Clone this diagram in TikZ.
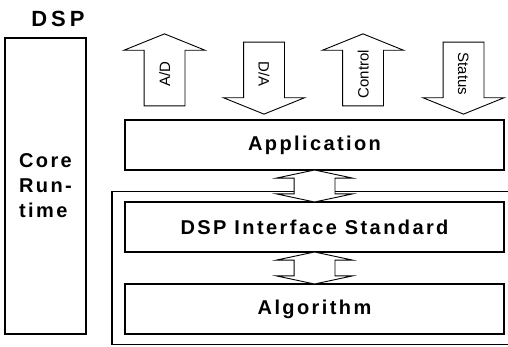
\documentclass[tikz,border=0pt]{standalone}
\usepackage{fontspec}
\setmainfont{Liberation Sans}
\newfontfamily\widefont{Liberation Sans}[LetterSpace=12]
\newfontfamily\titlefont{Liberation Sans}[LetterSpace=18]
\usetikzlibrary{positioning, shapes.arrows, fit, calc}

\begin{document}
\begin{tikzpicture}[
        x=1pt, y=-1pt,
        node distance=32pt,
        layer/.style={rectangle, draw, line width=1.3pt, outer sep=0pt, minimum width=379pt, minimum height=50pt, font=\fontsize{20}{24}\selectfont\widefont\bfseries},
        corebox/.style={rectangle, draw, line width=1.3pt, minimum width=81pt, minimum height=296pt, align=left, font=\fontsize{20}{25}\selectfont\widefont\bfseries},
        framebox/.style={rectangle, draw, line width=1.1pt, outer sep=0pt, inner xsep=13pt, inner ysep=10.5pt},
        sigarrow/.style={single arrow, draw, fill=white, line width=0.9pt, minimum height=72pt, minimum width=80pt, single arrow head extend=20pt, single arrow tip angle=136, inner xsep=0pt, inner ysep=14.5pt, text height=11pt, text depth=0pt, font=\fontsize{15}{15}\selectfont},
        linkarrow/.style={double arrow, draw, fill=white, line width=0.9pt, rotate=90, minimum height=32pt, minimum width=76pt, double arrow head extend=18pt, double arrow tip angle=156, inner xsep=0pt, inner ysep=20pt, text height=0pt, text depth=0pt}
    ]
        \useasboundingbox (0,0) rectangle (508,347);
        \clip (0,0) rectangle (508,347);
        \fill[white] (0,0) rectangle (508,347);

        \node[font=\fontsize{22}{22}\selectfont\titlefont\bfseries] (title) at (58,19) {DSP};
        \node[corebox] (core) at (45.5,186) {Core\\Run-\\time};

        \node[layer] (app) at (314.5,145) {Application};
        \node[layer, below=of app] (iface) {DSP Interface Standard};
        \node[layer, below=of iface] (algo) {Algorithm};
        \node[framebox, fit=(iface)(algo)] (fw) {};

        \node[sigarrow, rotate=90] (ad) at (164.5,74) {A/D};
        \node[sigarrow, rotate=-90] (da) at (264,74) {D/A};
        \node[sigarrow, rotate=90] (ctrl) at (363,74) {Control};
        \node[sigarrow, rotate=-90] (stat) at (463.5,74) {Status};

        \node[linkarrow] (link1) at ($(app.south)!.5!(iface.north)$) {};
        \node[linkarrow] (link2) at ($(iface.south)!.5!(algo.north)$) {};
    \end{tikzpicture}
\end{document}
